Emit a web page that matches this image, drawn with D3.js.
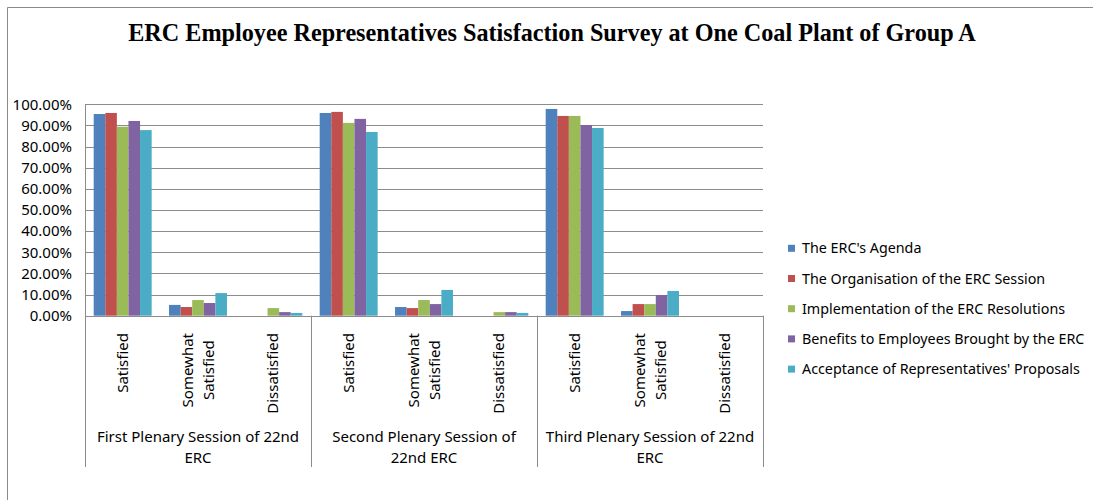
<!DOCTYPE html>
<html>
<head>
<meta charset="utf-8">
<script src="https://cdn.jsdelivr.net/npm/d3@7"></script>
<style>
  html, body { margin: 0; padding: 0; background: #fff; }
  svg { display: block; }
</style>
</head>
<body>
<svg id="chart" width="1093" height="500"></svg>
<script>
// ---- data ----
const title = "ERC Employee Representatives Satisfaction Survey at One Coal Plant of Group A";
const sessions = ["First Plenary Session of 22nd\nERC", "Second Plenary Session of\n22nd ERC", "Third Plenary Session of 22nd\nERC"];
const levels = ["Satisfied", "Somewhat\nSatisfied", "Dissatisfied"];
const seriesNames = [
  "The ERC's Agenda",
  "The Organisation of the ERC Session",
  "Implementation of the ERC Resolutions",
  "Benefits to Employees Brought by the ERC",
  "Acceptance of Representatives' Proposals"
];
const agenda         = [95.4, 5.1, 0,   95.9, 4.1, 0,   97.8, 2.2, 0];
const organisation   = [95.9, 4.1, 0,   96.4, 3.6, 0,   94.5, 5.5, 0];
const implementation = [89.4, 7.4, 3.6, 91.2, 7.4, 1.7, 94.5, 5.5, 0];
const benefits       = [92.1, 6.0, 1.7, 93.1, 5.5, 1.7, 90.2, 9.8, 0];
const acceptance     = [87.8, 10.7, 1.3, 86.9, 12.2, 1.3, 88.8, 11.7, 0];
const yTicks = [0, 10, 20, 30, 40, 50, 60, 70, 80, 90, 100];
const colors = ["#4F81BD", "#C0504D", "#9BBB59", "#8064A2", "#4BACC6"];

const seriesValues = [agenda, organisation, implementation, benefits, acceptance];
const categories = [];
sessions.forEach((s, si) => levels.forEach((l, li) => categories.push({ key: si + "-" + li, session: si, level: l })));

// ---- layout ----
const svg = d3.select("#chart");
const plot = { left: 85, right: 763, top: 104.3, bottom: 315.7 };
const font = "'Noto Sans', 'Open Sans', sans-serif";
const fs = 15;

// outer chart border
svg.append("path")
  .attr("d", "M7.5,500 L7.5,7.5 L1093,7.5")
  .attr("fill", "none").attr("stroke", "#8a8a8a").attr("stroke-width", 1);

// title
svg.append("text")
  .attr("x", 552).attr("y", 41)
  .attr("text-anchor", "middle")
  .attr("font-family", "'Liberation Serif', 'Times New Roman', serif")
  .attr("font-weight", "bold").attr("font-size", 24.2)
  .text(title);

const y = d3.scaleLinear().domain([0, 100]).range([plot.bottom, plot.top]);
const x0 = d3.scaleBand().domain(categories.map(c => c.key)).range([plot.left, plot.right]).paddingInner(0).paddingOuter(0);
const step = x0.step();
const barW = step / 6.5;
const x1 = d3.scaleBand().domain(d3.range(seriesNames.length))
  .range([barW * 0.75, barW * 0.75 + barW * 5]).padding(0);

// gridlines
const g = svg.append("g");
g.selectAll("line.grid").data(yTicks).join("line")
  .attr("class", "grid")
  .attr("x1", plot.left).attr("x2", plot.right)
  .attr("y1", d => Math.round(y(d)) + 0.5).attr("y2", d => Math.round(y(d)) + 0.5)
  .attr("stroke", "#8c8c8c").attr("stroke-width", 1);

// y axis labels
const yAxis = d3.axisLeft(y).tickValues(yTicks).tickSize(0).tickPadding(0)
  .tickFormat(d => d3.format(".2f")(d) + "%");
const ya = svg.append("g").attr("transform", `translate(${plot.left - 13},0)`).call(yAxis);
ya.select(".domain").remove();
ya.selectAll("text").attr("font-family", font).attr("font-size", fs).attr("fill", "#000");

// bars
const bars = svg.append("g");
seriesValues.forEach((vals, si) => {
  bars.selectAll(null).data(vals.map((v, i) => ({ v, cat: categories[i].key }))).join("rect")
    .attr("x", d => x0(d.cat) + x1(si))
    .attr("y", d => y(d.v))
    .attr("width", x1.bandwidth())
    .attr("height", d => y(0) - y(d.v))
    .attr("fill", colors[si]);
});

// axis lines
const axisColor = "#8c8c8c";
svg.append("line").attr("x1", plot.left + 0.5).attr("x2", plot.left + 0.5)
  .attr("y1", plot.top).attr("y2", 467).attr("stroke", axisColor);
svg.append("line").attr("x1", plot.left).attr("x2", plot.right)
  .attr("y1", Math.round(y(0)) + 0.5).attr("y2", Math.round(y(0)) + 0.5).attr("stroke", axisColor);
// session dividers
const sessionEdges = d3.range(sessions.length + 1).map(i => plot.left + i * step * levels.length);
svg.selectAll("line.div").data(sessionEdges.slice(1)).join("line")
  .attr("class", "div")
  .attr("x1", d => Math.round(d) + 0.5).attr("x2", d => Math.round(d) + 0.5)
  .attr("y1", y(0)).attr("y2", 467).attr("stroke", axisColor);

// category labels (rotated)
const catG = svg.append("g");
categories.forEach(c => {
  const cx = x0(c.key) + step / 2;
  const lines = c.level.split("\n");
  const lineH = 21;
  const t = catG.append("g").attr("transform", `translate(${cx},333) rotate(-90)`);
  const txt = t.append("text").attr("font-family", font).attr("font-size", fs).attr("fill", "#000");
  lines.forEach((ln, i) => {
    txt.append("tspan").attr("x", 0).attr("y", (i - (lines.length - 1) / 2) * lineH + 5).text(ln);
  });
  const lens = [];
  txt.selectAll("tspan").each(function () { lens.push(this.getComputedTextLength()); });
  const maxL = d3.max(lens);
  txt.selectAll("tspan").attr("x", -maxL / 2).attr("text-anchor", "middle");
});

// session labels
sessions.forEach((s, i) => {
  const cx = (sessionEdges[i] + sessionEdges[i + 1]) / 2;
  const lines = s.split("\n");
  const txt = svg.append("text").attr("font-family", font).attr("font-size", fs)
    .attr("text-anchor", "middle").attr("fill", "#000");
  lines.forEach((ln, j) => {
    txt.append("tspan").attr("x", cx).attr("y", 442 + j * 21).text(ln);
  });
});

// legend
const leg = svg.append("g");
seriesNames.forEach((n, i) => {
  const ly = 248.3 + i * 30.2;
  leg.append("rect").attr("x", 788).attr("y", ly - 3.5).attr("width", 7).attr("height", 7).attr("fill", colors[i]);
  leg.append("text").attr("x", 802).attr("y", ly + 5)
    .attr("font-family", font).attr("font-size", 14.3).attr("fill", "#000").text(n);
});
</script>
</body>
</html>
